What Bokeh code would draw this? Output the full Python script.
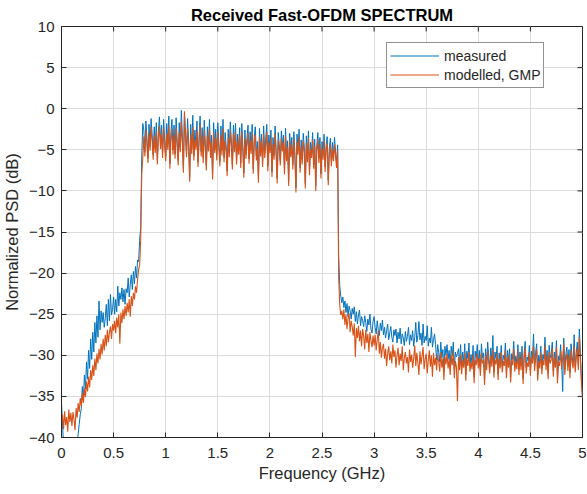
import math
from bokeh.plotting import figure
from bokeh.models import FixedTicker, NumeralTickFormatter, Range1d, Legend, LegendItem
from bokeh.embed import file_html
from bokeh.resources import INLINE

# Frequency grid step (GHz) of the read-off samples; one row = 0.1 GHz
step_ghz = 0.01

measured = [
    -35.8, -38.5, -40.8, -41.5, -42.0, -41.2, -42.5, -43.0, -41.8, -42.6,
    -42.0, -41.5, -43.0, -42.2, -41.0, -40.5, -39.6, -38.4, -37.2, -36.5,
    -33.8, -35.4, -32.4, -34.1, -30.8, -32.9, -29.4, -31.6, -28.0, -30.5,
    -27.2, -29.6, -26.0, -28.5, -25.2, -27.8, -23.4, -26.9, -24.6, -26.0,
    -24.8, -26.6, -25.5, -23.8, -26.4, -23.2, -25.8, -22.6, -25.1, -24.4,
    -22.9, -25.0, -23.2, -24.7, -21.6, -24.0, -22.4, -23.2, -21.8, -23.5,
    -22.0, -23.8, -21.9, -22.4, -20.6, -22.9, -21.4, -20.2, -22.0, -19.8,
    -21.3, -19.2, -20.6, -18.4, -18.6, -16.0, -14.5, -6.0, -1.8, -2.6,
    -5.2, -1.5, -3.6, -6.0, -1.9, -4.5, -1.2, -3.2, -5.6, -2.2,
    -4.8, -1.7, -6.2, -2.7, -1.0, -4.3, -2.0, -5.4, -1.3, -3.8,
    -5.8, -1.8, -4.3, -0.9, -6.7, -2.9, -1.3, -5.0, -2.0, -5.5,
    -1.1, -4.0, -6.3, -1.7, -4.7, -0.2, -3.4, -7.2, -0.6, -2.8,
    -5.3, -1.2, -3.9, -8.3, -1.9, -4.9, -0.8, -5.7, -2.6, -4.4,
    -1.5, -6.5, -3.5, -0.9, -5.2, -2.3, -6.0, -1.4, -4.2, -6.9,
    -2.2, -4.6, -1.3, -5.4, -3.2, -8.0, -1.7, -4.8, -2.5, -5.7,
    -1.7, -4.2, -6.4, -2.1, -5.1, -1.3, -5.9, -2.9, -4.5, -7.6,
    -2.5, -5.3, -1.6, -3.9, -6.8, -2.0, -4.7, -1.8, -6.2, -3.1,
    -5.0, -2.3, -6.6, -1.8, -4.4, -7.8, -2.6, -5.5, -3.6, -2.0,
    -6.1, -2.8, -4.9, -1.9, -7.3, -3.4, -2.2, -5.7, -4.0, -8.4,
    -2.4, -5.2, -3.1, -6.5, -2.1, -5.4, -3.7, -1.9, -7.0, -3.2,
    -4.8, -2.6, -7.7, -3.5, -5.6, -2.1, -5.1, -8.5, -2.9, -4.4,
    -6.3, -2.7, -4.6, -3.2, -7.4, -2.4, -5.8, -3.9, -8.8, -3.0,
    -5.3, -3.5, -6.8, -2.8, -5.5, -9.6, -3.1, -5.0, -2.5, -7.2,
    -3.8, -6.2, -3.0, -4.7, -9.1, -3.3, -5.9, -2.7, -7.5, -4.1,
    -5.4, -2.9, -6.7, -3.7, -9.4, -4.5, -2.9, -6.0, -3.5, -7.9,
    -4.0, -5.6, -3.1, -7.1, -4.4, -3.4, -8.7, -4.9, -3.6, -6.4,
    -4.1, -5.8, -3.5, -5.2, -6.6, -4.4, -18.0, -21.5, -22.8, -23.6,
    -22.9, -24.2, -23.4, -24.8, -23.7, -25.3, -24.0, -24.6, -25.6, -24.3,
    -25.0, -24.1, -25.9, -24.7, -26.2, -25.1, -24.5, -26.4, -25.3, -25.8,
    -26.5, -25.2, -26.0, -27.1, -25.6, -26.3, -25.0, -26.8, -27.3, -25.9,
    -25.3, -26.6, -27.4, -25.8, -26.9, -27.6, -26.1, -27.0, -25.7, -27.5,
    -26.6, -27.9, -27.0, -26.2, -28.1, -27.3, -26.5, -27.8, -28.4, -26.9,
    -27.6, -26.8, -28.5, -27.2, -28.0, -26.7, -28.6, -27.4, -27.9, -28.8,
    -27.1, -28.3, -27.7, -26.6, -28.7, -27.5, -28.2, -27.0, -28.9, -27.8,
    -26.0, -28.4, -27.6, -25.9, -28.1, -27.3, -28.8, -26.2, -28.5, -27.7,
    -28.2, -26.4, -28.9, -27.9, -28.5, -26.6, -29.0, -28.1, -27.4, -28.7,
    -30.6, -28.7, -29.7, -30.8, -28.4, -30.3, -29.3, -31.8, -28.9, -30.0,
    -28.7, -30.5, -29.4, -31.2, -28.9, -30.1, -28.4, -31.6, -29.6, -30.2,
    -29.8, -29.2, -31.0, -28.7, -31.5, -29.6, -30.8, -28.6, -32.3, -29.5,
    -30.4, -28.5, -31.2, -29.9, -31.0, -28.8, -32.6, -29.5, -30.4, -28.7,
    -30.9, -29.4, -31.8, -28.6, -30.3, -29.7, -32.9, -29.2, -31.1, -28.4,
    -30.2, -31.5, -29.1, -30.7, -27.6, -32.0, -29.6, -30.4, -28.9, -32.3,
    -29.7, -30.9, -28.8, -31.4, -30.0, -30.6, -28.5, -32.1, -29.4, -30.8,
    -29.2, -32.6, -29.8, -30.5, -28.3, -31.3, -30.1, -31.0, -28.7, -31.7,
    -29.6, -31.1, -28.9, -32.8, -29.8, -28.3, -31.5, -30.2, -30.7, -28.8,
    -31.8, -29.5, -30.3, -27.4, -31.2, -29.7, -28.6, -32.4, -30.0, -30.9,
    -28.9, -31.6, -29.9, -30.5, -27.8, -31.1, -29.4, -32.2, -28.8, -30.3,
    -29.8, -28.4, -31.9, -29.6, -30.8, -28.2, -32.7, -30.1, -30.6, -28.7,
    -31.0, -34.4, -27.9, -31.7, -29.9, -29.0, -31.2, -29.3, -32.1, -28.6,
    -30.2, -30.9, -27.5, -31.4, -29.7, -28.4, -31.1, -26.8, -29.9, -33.0,
    -34.8,
]

modelled = [
    -38.0, -37.2, -39.0, -36.8, -38.5, -37.5, -39.3, -36.6, -38.1, -37.0,
    -38.6, -36.9, -37.8, -39.1, -36.4, -37.6, -35.8, -36.9, -35.2, -36.2,
    -34.6, -35.8, -34.0, -35.1, -33.2, -34.4, -32.6, -33.9, -31.8, -33.0,
    -31.2, -32.5, -30.4, -31.8, -29.8, -31.0, -29.2, -30.5, -28.6, -29.9,
    -28.0, -29.4, -27.5, -28.9, -26.9, -28.4, -27.2, -26.5, -28.0, -26.2,
    -27.0, -25.8, -27.3, -25.4, -26.6, -25.0, -28.6, -24.8, -26.1, -24.4,
    -25.6, -24.0, -25.2, -23.6, -24.8, -23.2, -25.3, -22.8, -24.0, -22.4,
    -23.2, -21.6, -22.4, -20.8, -19.6, -19.0, -16.0, -8.0, -6.0, -3.4,
    -5.8, -2.6, -4.4, -6.6, -3.0, -5.1, -2.2, -4.0, -6.2, -3.3,
    -5.4, -2.8, -6.8, -3.6, -2.1, -4.9, -3.1, -6.0, -2.4, -4.5,
    -6.4, -3.0, -5.0, -2.0, -7.3, -3.9, -2.5, -5.6, -3.2, -6.1,
    -2.3, -4.7, -6.9, -2.9, -5.3, -1.6, -4.2, -7.8, -0.3, -3.8,
    -5.9, -2.4, -4.6, -8.9, -3.1, -5.5, -2.2, -6.3, -3.7, -5.0,
    -2.7, -7.1, -4.3, -2.0, -5.8, -3.4, -6.6, -2.6, -4.9, -7.5,
    -3.3, -5.2, -2.5, -6.0, -4.1, -8.6, -2.9, -5.4, -3.6, -6.3,
    -2.8, -4.8, -7.0, -3.2, -5.7, -2.4, -6.5, -3.9, -5.1, -8.2,
    -3.5, -5.9, -2.7, -4.6, -7.4, -3.1, -5.3, -2.9, -6.8, -4.0,
    -5.6, -3.3, -7.2, -2.8, -5.0, -8.4, -3.6, -6.1, -4.4, -3.0,
    -6.7, -3.8, -5.5, -2.9, -7.9, -4.2, -3.2, -6.3, -4.8, -9.0,
    -3.4, -5.8, -4.0, -7.1, -3.1, -6.0, -4.5, -2.8, -7.6, -4.1,
    -5.4, -3.5, -8.3, -4.3, -6.2, -3.0, -5.7, -9.1, -3.8, -5.0,
    -6.9, -3.6, -5.2, -4.1, -8.0, -3.3, -6.4, -4.7, -9.4, -3.9,
    -5.9, -4.4, -7.4, -3.7, -6.1, -10.2, -4.0, -5.6, -3.4, -7.8,
    -4.6, -6.8, -3.9, -5.3, -9.7, -4.2, -6.5, -3.6, -8.1, -4.9,
    -6.0, -3.8, -7.3, -4.5, -10.0, -5.1, -3.7, -6.6, -4.3, -8.5,
    -4.8, -6.2, -3.9, -7.7, -5.0, -4.2, -9.3, -5.5, -4.4, -7.0,
    -4.9, -6.4, -4.3, -5.8, -7.2, -5.1, -20.5, -23.8, -25.1, -24.6,
    -25.6, -24.4, -26.3, -25.0, -26.8, -25.5, -24.9, -27.2, -25.8, -26.5,
    -27.6, -26.1, -30.2, -26.7, -27.9, -26.4, -28.3, -27.0, -28.9, -26.8,
    -27.7, -29.3, -26.9, -28.5, -27.4, -29.6, -27.2, -28.2, -29.0, -27.6,
    -28.8, -27.5, -29.4, -28.1, -27.0, -29.8, -28.4, -30.3, -29.1, -28.6,
    -30.4, -29.2, -31.3, -29.8, -28.9, -30.6, -29.5, -31.0, -28.7, -30.2,
    -29.4, -31.5, -30.0, -29.1, -31.2, -29.8, -30.7, -28.9, -31.8, -30.3,
    -29.6, -31.0, -30.2, -32.1, -29.3, -30.8, -29.9, -31.5, -30.4, -28.8,
    -31.3, -29.7, -30.9, -32.4, -29.5, -31.1, -30.1, -29.0, -31.7, -30.5,
    -29.8, -32.2, -30.6, -29.4, -31.4, -30.0, -32.6, -29.7, -31.2, -30.3,
    -31.8, -29.9, -30.8, -32.0, -29.6, -31.5, -30.4, -33.0, -30.1, -31.1,
    -29.8, -31.6, -30.5, -32.4, -30.0, -31.2, -29.5, -32.8, -30.7, -31.4,
    -35.6, -30.2, -31.8, -29.9, -32.3, -30.6, -31.5, -29.7, -33.1, -30.4,
    -31.3, -29.6, -32.0, -30.8, -31.7, -29.9, -33.4, -30.5, -31.2, -29.8,
    -31.6, -30.3, -32.5, -29.7, -31.0, -30.6, -33.6, -30.1, -31.8, -29.5,
    -30.9, -32.2, -30.0, -31.4, -29.3, -32.7, -30.5, -31.1, -29.8, -33.0,
    -30.4, -31.6, -29.6, -32.1, -30.7, -31.3, -29.4, -32.8, -30.2, -31.5,
    -29.9, -33.3, -30.6, -31.2, -29.2, -32.0, -30.8, -31.7, -29.5, -32.4,
    -30.3, -31.8, -29.7, -33.5, -30.5, -29.1, -32.2, -30.9, -31.4, -29.6,
    -32.5, -30.2, -31.0, -28.9, -31.9, -30.4, -29.3, -33.1, -30.7, -31.6,
    -29.7, -32.3, -30.6, -31.2, -28.8, -31.8, -30.1, -32.9, -29.6, -31.0,
    -30.5, -29.2, -32.6, -30.3, -31.5, -29.0, -33.4, -30.8, -31.3, -29.5,
    -31.7, -30.2, -28.6, -32.4, -30.6, -29.8, -31.9, -30.0, -32.8, -29.4,
    -30.9, -31.6, -28.9, -32.1, -30.4, -29.2, -31.8, -27.8, -30.6, -33.5,
    -35.2,
]

freq_measured = [round(i * step_ghz, 2) for i in range(len(measured))]
freq_modelled = [round(i * step_ghz, 2) for i in range(len(modelled))]

x_ticks = [0, 0.5, 1, 1.5, 2, 2.5, 3, 3.5, 4, 4.5, 5]
y_ticks = [-40, -35, -30, -25, -20, -15, -10, -5, 0, 5, 10]
x_lim = (0, 5)
y_lim = (-40, 10)

FONT = "Liberation Sans"
AX = "#262626"
BLUE = "#0072BD"
ORANGE = "#D95319"

p = figure(width=587, height=494, output_backend="svg", toolbar_location=None,
           x_range=Range1d(*x_lim), y_range=Range1d(*y_lim),
           min_border_left=60, min_border_right=5, min_border_top=26, min_border_bottom=57,
           background_fill_color="white", border_fill_color="white")

p.title.text = "Received Fast-OFDM SPECTRUM"
p.title.align = "center"
p.title.text_font = FONT
p.title.text_font_size = "16.5px"
p.title.text_font_style = "bold"
p.title.text_color = "black"
p.title.standoff = 5

p.xgrid.ticker = FixedTicker(ticks=x_ticks)
p.ygrid.ticker = FixedTicker(ticks=y_ticks)
p.grid.grid_line_color = "#dcdcdc"
p.grid.grid_line_width = 1

r1 = p.line(freq_measured, measured, line_color=BLUE, line_width=1)
r2 = p.line(freq_modelled, modelled, line_color=ORANGE, line_width=1.1)

# inward ticks on the top and right edges of the box (MATLAB "box on")
p.ray(x=x_ticks, y=[y_lim[1]] * len(x_ticks), length=5, length_units="screen",
      angle=-math.pi / 2, line_color=AX, line_width=1)
p.ray(x=[x_lim[1]] * len(y_ticks), y=y_ticks, length=5, length_units="screen",
      angle=math.pi, line_color=AX, line_width=1)

for ax in (p.xaxis[0], p.yaxis[0]):
    ax.axis_line_color = AX
    ax.major_tick_line_color = AX
    ax.major_tick_in = 5
    ax.major_tick_out = 0
    ax.minor_tick_line_color = None
    ax.major_label_text_font = FONT
    ax.major_label_text_font_size = "15px"
    ax.major_label_text_color = AX
    ax.axis_label_text_font = FONT
    ax.axis_label_text_font_size = "16.5px"
    ax.axis_label_text_font_style = "normal"
    ax.axis_label_text_color = AX

p.xaxis[0].ticker = FixedTicker(ticks=x_ticks)
p.xaxis[0].formatter = NumeralTickFormatter(format="0.[0]")
p.xaxis[0].axis_label = "Frequency (GHz)"
p.xaxis[0].major_label_standoff = 10
p.xaxis[0].axis_label_standoff = 3

p.yaxis[0].ticker = FixedTicker(ticks=y_ticks)
p.yaxis[0].axis_label = "Normalized PSD (dB)"
p.yaxis[0].major_label_standoff = 7
p.yaxis[0].axis_label_standoff = 5

p.outline_line_color = AX

legend = Legend(items=[LegendItem(label="measured", renderers=[r1]),
                       LegendItem(label="modelled, GMP", renderers=[r2])],
                location=(325, 349))
legend.label_text_font = FONT
legend.label_text_font_size = "14px"
legend.label_text_color = AX
legend.glyph_width = 49
legend.glyph_height = 19
legend.label_height = 19
legend.label_standoff = 5
legend.spacing = 0
legend.padding = 3
legend.margin = 0
legend.border_line_color = AX
legend.border_line_width = 1
legend.background_fill_color = "white"
legend.background_fill_alpha = 1
p.add_layout(legend, "center")

open("out.html", "w").write(file_html(p, INLINE))
